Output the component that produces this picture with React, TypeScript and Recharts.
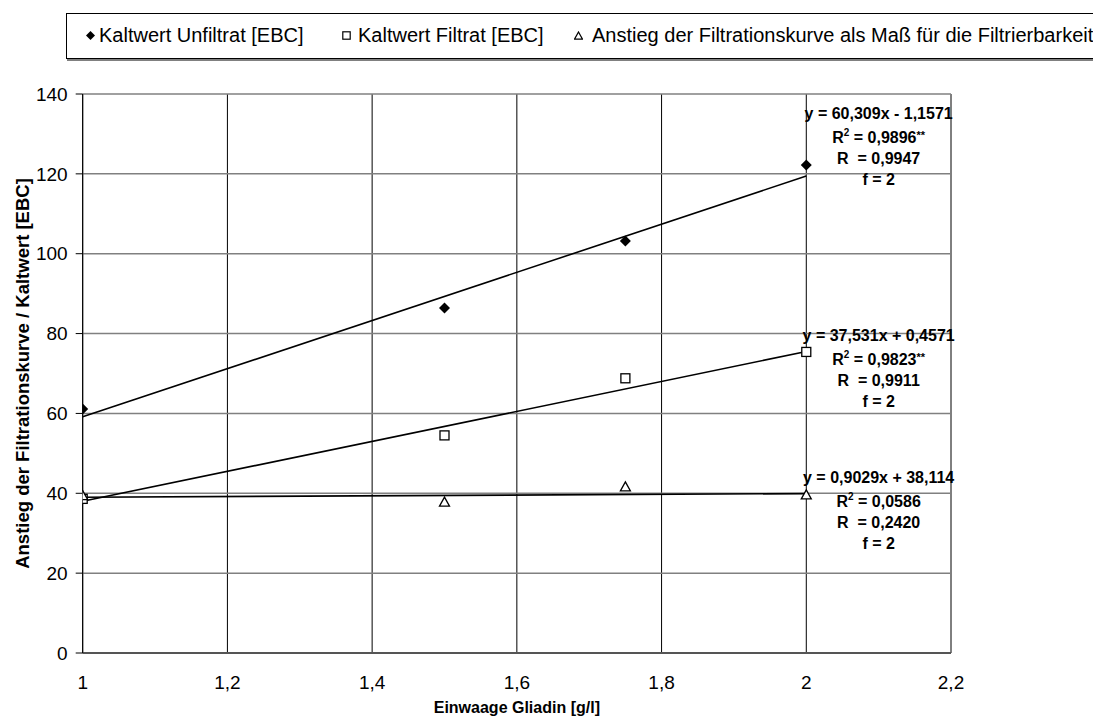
import React from 'react';
import { ComposedChart, Scatter, Line, XAxis, YAxis, CartesianGrid, ReferenceDot } from 'recharts';

// Einwaage Gliadin [g/l]
const einwaage = [1, 1.5, 1.75, 2];
// Kaltwert Unfiltrat [EBC]
const unfiltrat = [61.1, 86.4, 103.2, 122.2];
// Kaltwert Filtrat [EBC]
const filtrat = [38.6, 54.5, 68.8, 75.4];
// Anstieg der Filtrationskurve
const anstieg = [39.4, 37.8, 41.6, 39.6];

// linear regressions as stated in the annotations
const slopes = [60.309, 37.531, 0.9029];
const intercepts = [-1.1571, 0.4571, 38.114];
const equations = ['y = 60,309x - 1,1571', 'y = 37,531x + 0,4571', 'y = 0,9029x + 38,114'];
const rSquared = ['0,9896', '0,9823', '0,0586'];
const significance = ['**', '**', ''];
const rValues = ['0,9947', '0,9911', '0,2420'];
const freedom = ['2', '2', '2'];

const seriesNames = [
  'Kaltwert Unfiltrat [EBC]',
  'Kaltwert Filtrat [EBC]',
  'Anstieg der Filtrationskurve als Maß für die Filtrierbarkeit',
];

const xTicks = [1, 1.2, 1.4, 1.6, 1.8, 2, 2.2];
const yTicks = [0, 20, 40, 60, 80, 100, 120, 140];

const FONT = '"Liberation Sans", Arial, sans-serif';

const toPoints = (values: number[]) => einwaage.map((x, i) => ({ x, y: values[i] }));
const trend = (i: number) => [1, 2].map((x) => ({ x, y: slopes[i] * x + intercepts[i] }));

const Diamond = ({ cx, cy }: any) => (
  <path d={`M${cx},${cy - 5.5} L${cx + 5.5},${cy} L${cx},${cy + 5.5} L${cx - 5.5},${cy} Z`} fill="#000" />
);
const Square = ({ cx, cy }: any) => (
  <rect x={cx - 4.5} y={cy - 4.5} width={9} height={9} fill="#fff" stroke="#000" strokeWidth={1.3} />
);
const Triangle = ({ cx, cy }: any) => (
  <path d={`M${cx},${cy - 5} L${cx + 5},${cy + 4} L${cx - 5},${cy + 4} Z`} fill="#fff" stroke="#000" strokeWidth={1.3} />
);

const markers = [Diamond, Square, Triangle];

// regression text block, first line centred on the anchor point
const equationBlock = (i: number) => ({ cx, cy }: any) => (
  <g fontFamily={FONT} fontSize={16} fontWeight="bold" fill="#000" textAnchor="middle">
    <text x={cx} y={cy + 6}>{equations[i]}</text>
    <text x={cx} y={cy + 30}>
      R<tspan dy={-7} fontSize={10}>2</tspan>
      <tspan dy={7}> = {rSquared[i]}</tspan>
      {significance[i] && <tspan dy={-4} fontSize={11}>{significance[i]}</tspan>}
    </text>
    <text x={cx} y={cy + 51} style={{ whiteSpace: 'pre' }}>{`R  = ${rValues[i]}`}</text>
    <text x={cx} y={cy + 72}>{`f = ${freedom[i]}`}</text>
  </g>
);

const annotationAnchors = [135.2, 79.6, 44.1];

const legendSlots = [
  { icon: 23, text: 32 },
  { icon: 279, text: 291 },
  { icon: 511, text: 525 },
];

const legendIcons = [
  <svg width={9} height={9}><path d="M4.5,0 L9,4.5 L4.5,9 L0,4.5 Z" fill="#000" /></svg>,
  <svg width={9} height={9}><rect x={0.8} y={0.8} width={7.4} height={7.4} fill="#fff" stroke="#000" strokeWidth={1.2} /></svg>,
  <svg width={9} height={9}><path d="M4.5,1 L8.5,8.2 L0.5,8.2 Z" fill="#fff" stroke="#000" strokeWidth={1.2} /></svg>,
];

const LegendBox = () => (
  <div
    style={{
      position: 'absolute',
      left: 66,
      top: 13,
      width: 1040,
      height: 44,
      border: '1px solid #000',
      boxShadow: '1px 2px 0 #808080',
      background: '#fff',
      fontFamily: FONT,
      fontSize: 20,
      color: '#000',
    }}
  >
    {seriesNames.map((name, i) => (
      <React.Fragment key={name}>
        <div style={{ position: 'absolute', left: legendSlots[i].icon - 4.5, top: 17, width: 9, height: 9, lineHeight: 0 }}>
          {legendIcons[i]}
        </div>
        <div style={{ position: 'absolute', left: legendSlots[i].text, top: 9, whiteSpace: 'nowrap', lineHeight: '24px' }}>
          {name}
        </div>
      </React.Fragment>
    ))}
  </div>
);

export default function App() {
  const series = [unfiltrat, filtrat, anstieg];
  return (
    <div style={{ position: 'absolute', left: 0, top: 0, width: 1093, height: 725, background: '#fff', overflow: 'hidden' }}>
      <ComposedChart width={1093} height={725} margin={{ top: 94, right: 142, bottom: 0, left: 0 }}>
        <CartesianGrid horizontal={false} stroke="#000" strokeWidth={1} />
        <CartesianGrid vertical={false} stroke="#808080" strokeWidth={1.5} />
        <XAxis
          dataKey="x"
          type="number"
          domain={[1, 2.2]}
          ticks={xTicks}
          allowDataOverflow
          tickFormatter={(v: number) => String(v).replace('.', ',')}
          tick={{ fill: '#000', fontSize: 19, fontFamily: FONT }}
          tickSize={0}
          tickMargin={23}
          axisLine={{ stroke: '#555', strokeWidth: 2 }}
          height={72}
          label={{
            value: 'Einwaage Gliadin [g/l]',
            position: 'insideBottom',
            offset: 12,
            style: { fill: '#000', fontSize: 16, fontWeight: 'bold', fontFamily: FONT },
          }}
        />
        <YAxis
          dataKey="y"
          type="number"
          domain={[0, 140]}
          ticks={yTicks}
          width={82.7}
          tick={{ fill: '#000', fontSize: 19, fontFamily: FONT }}
          tickSize={7}
          tickMargin={8}
          tickLine={{ stroke: '#000' }}
          axisLine={{ stroke: '#000' }}
          label={{
            value: 'Anstieg der Filtrationskurve / Kaltwert [EBC]',
            angle: -90,
            position: 'insideLeft',
            offset: 22,
            style: { textAnchor: 'middle', fill: '#000', fontSize: 18.5, fontWeight: 'bold', fontFamily: FONT },
          }}
        />
        {series.map((_, i) => (
          <Line
            key={`trend-${i}`}
            data={trend(i)}
            dataKey="y"
            stroke="#000"
            strokeWidth={1.6}
            dot={false}
            activeDot={false}
            isAnimationActive={false}
          />
        ))}
        {series.map((values, i) => (
          <Scatter
            key={`points-${i}`}
            name={seriesNames[i]}
            data={toPoints(values)}
            shape={markers[i]}
            isAnimationActive={false}
          />
        ))}
        {annotationAnchors.map((y, i) => (
          <ReferenceDot key={`eq-${i}`} x={2.1} y={y} r={1} shape={equationBlock(i)} />
        ))}
      </ComposedChart>
      <LegendBox />
    </div>
  );
}
